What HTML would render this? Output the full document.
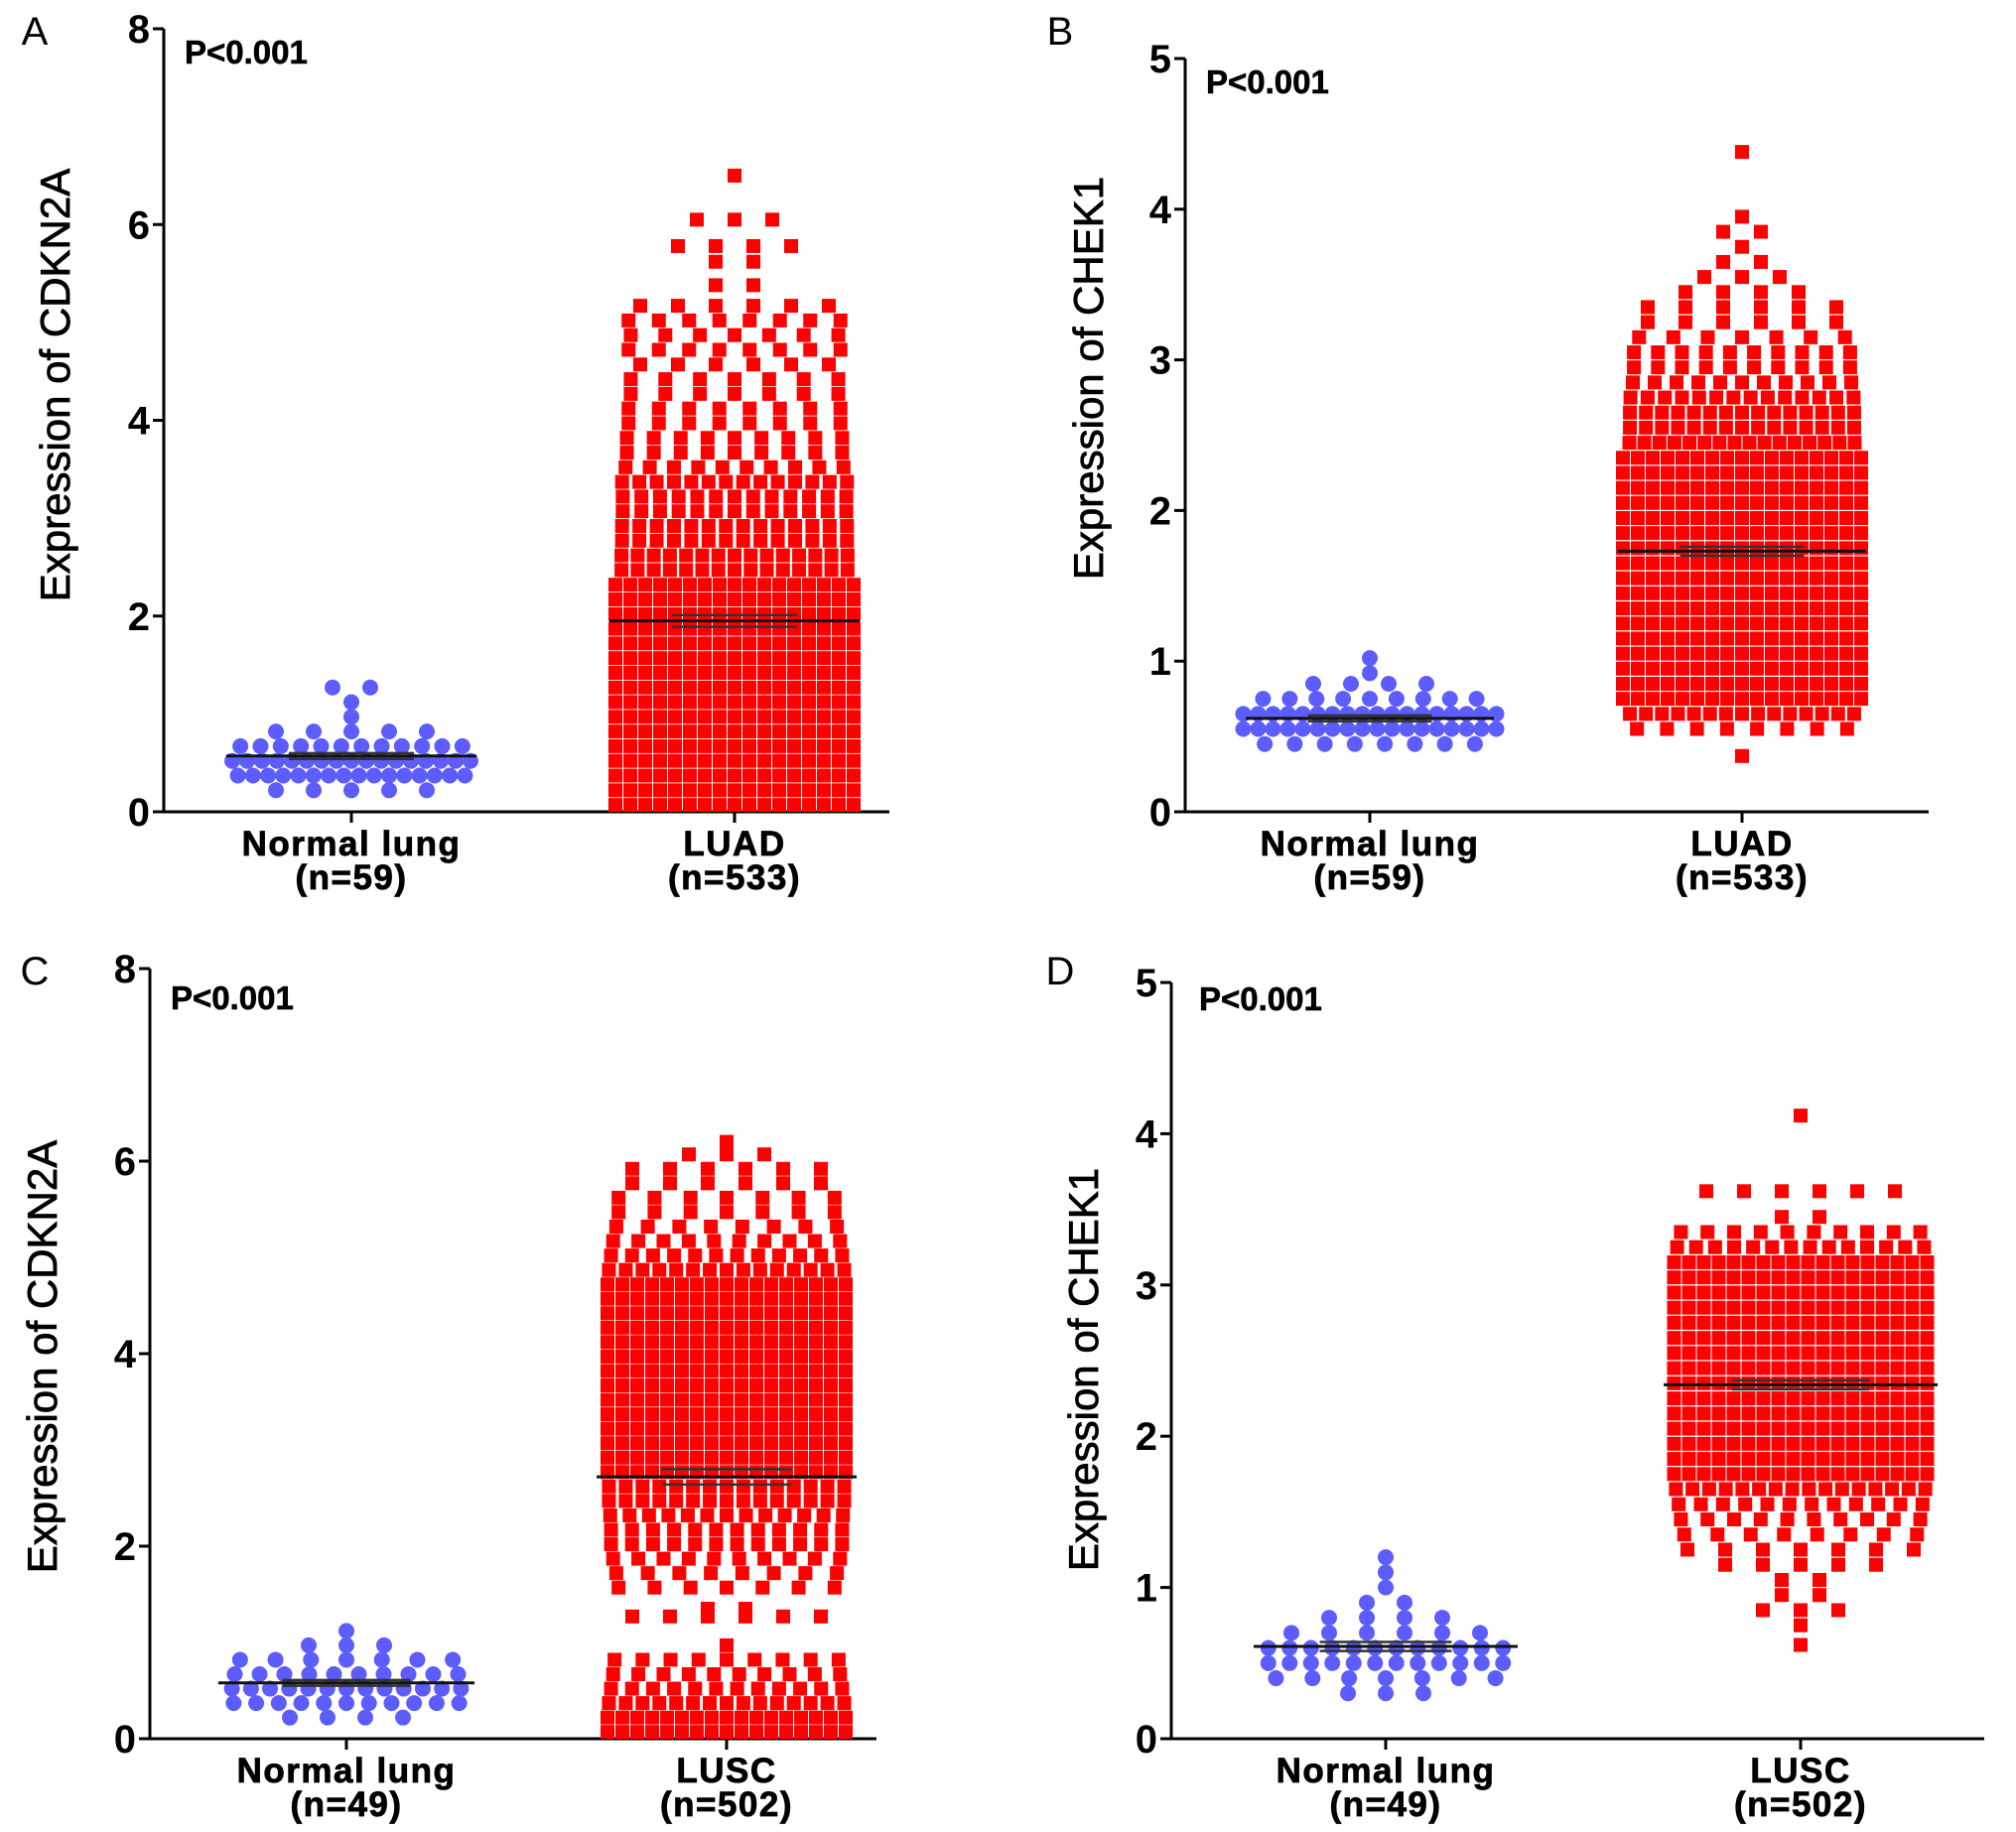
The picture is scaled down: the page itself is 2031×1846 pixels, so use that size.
<!DOCTYPE html>
<html><head><meta charset="utf-8">
<style>
html,body{margin:0;padding:0;background:#fff;}
svg{display:block;}
text{font-family:"Liberation Sans",Arial,sans-serif;}
</style></head>
<body>
<svg id="fig" width="2031" height="1846" viewBox="0 0 2031 1846" xmlns="http://www.w3.org/2000/svg"></svg>
<script>
// ---- Data (row value, number of samples at that value) ----
// Panel A: CDKN2A, LUAD cohort
const aNormVals = [0.22,0.37,0.52,0.67,0.82,0.97,1.12,1.27];
const aNormCnts = [5,16,17,12,5,1,1,2];
const aTumVals = [0.07,0.22,0.37,0.52,0.67,0.82,0.97,1.12,1.27,1.42,1.57,1.72,1.87,2.02,2.17,2.32,2.47,2.62,2.77,2.92,3.07,3.22,3.37,3.52,3.67,3.82,3.97,4.12,4.27,4.42,4.57,4.72,4.87,5.02,5.17,5.38,5.62,5.78,6.05,6.5];
const aTumCnts = [17,17,17,17,17,17,17,17,17,17,17,17,17,17,17,17,15,15,14,14,13,13,14,10,9,9,8,8,7,7,6,8,7,8,6,2,2,4,3,1];
// Panel B: CHEK1, LUAD cohort
const bNormVals = [0.45,0.55,0.65,0.75,0.85,0.92,1.02];
const bNormCnts = [8,18,18,9,4,1,1];
const bTumVals = [0.37,0.55,0.65,0.75,0.85,0.95,1.05,1.15,1.25,1.35,1.45,1.55,1.65,1.75,1.85,1.95,2.05,2.15,2.25,2.35,2.45,2.55,2.65,2.75,2.85,2.95,3.05,3.15,3.25,3.35,3.45,3.55,3.65,3.75,3.85,3.95,4.38];
const bTumCnts = [1,8,15,17,17,17,17,17,17,17,17,17,17,17,17,17,17,17,17,17,16,15,15,14,11,10,10,7,6,6,4,3,2,1,2,1,1];
// Panel C: CDKN2A, LUSC cohort
const cNormVals = [0.22,0.37,0.52,0.67,0.82,0.97,1.12];
const cNormCnts = [4,11,13,10,7,3,1];
const cTumVals = [0.07,0.22,0.37,0.52,0.67,0.82,0.97,1.27,1.35,1.57,1.72,1.87,2.02,2.17,2.32,2.47,2.62,2.77,2.92,3.07,3.22,3.37,3.52,3.67,3.82,3.97,4.12,4.27,4.42,4.57,4.72,4.87,5.02,5.17,5.32,5.47,5.62,5.77,5.92,6.07,6.2];
const cTumCnts = [17,17,15,12,10,9,1,6,2,7,8,10,12,12,13,15,15,17,17,17,17,17,17,17,17,17,17,17,17,17,17,15,12,10,8,7,7,6,6,3,1];
// Panel D: CHEK1, LUSC cohort
const dNormVals = [0.3,0.4,0.5,0.6,0.7,0.8,0.9,1.0,1.1,1.2];
const dNormCnts = [3,7,12,12,6,4,2,1,1,1];
const dTumVals = [0.62,0.75,0.85,0.95,1.05,1.15,1.25,1.35,1.45,1.55,1.65,1.75,1.85,1.95,2.05,2.15,2.25,2.35,2.45,2.55,2.65,2.75,2.85,2.95,3.05,3.15,3.25,3.35,3.45,3.62,4.12];
const dTumCnts = [1,1,3,2,2,5,7,8,10,12,16,18,18,18,18,18,18,18,18,18,18,18,18,18,18,18,14,10,2,6,1];
// Group means and SEM
const aMeans = [0.57,1.95]; const aSems = [0.03,0.06];
const bMeans = [0.62,1.73]; const bSems = [0.02,0.03];
const cMeans = [0.58,2.72]; const cSems = [0.03,0.08];
const dMeans = [0.61,2.34]; const dSems = [0.03,0.03];
// Labels
const aTicks = [0,2,4,6,8]; const bTicks = [0,1,2,3,4,5];
const cTicks = [0,2,4,6,8]; const dTicks = [0,1,2,3,4,5];
const luadCats = ["Normal lung","LUAD"]; const luadNs = ["(n=59)","(n=533)"];
const luscCats = ["Normal lung","LUSC"]; const luscNs = ["(n=49)","(n=502)"];

const NS = "http://www.w3.org/2000/svg";
const svg = document.getElementById('fig');
function mk(tag, attrs, parent, txt){
  const e = document.createElementNS(NS, tag);
  for (const k in attrs) e.setAttribute(k, attrs[k]);
  if (txt !== undefined) e.textContent = txt;
  (parent || svg).appendChild(e);
  return e;
}

const panels = [
  {id:'a', letter:'A', gene:'CDKN2A', ymax:8, ticks:aTicks, cats:luadCats, ns:luadNs,
   ax:165, top:29, bot:818, xend:896, cx:[354,740], half:[126,126],
   normVals:aNormVals, normCnts:aNormCnts, tumVals:aTumVals, tumCnts:aTumCnts, means:aMeans, sems:aSems,
   lx:35, ly:45, px:186, py:64, tx:55, ty:388},
  {id:'b', letter:'B', gene:'CHEK1', ymax:5, ticks:bTicks, cats:luadCats, ns:luadNs,
   ax:1194, top:59, bot:818, xend:1943, cx:[1380,1755], half:[125,125],
   normVals:bNormVals, normCnts:bNormCnts, tumVals:bTumVals, tumCnts:bTumCnts, means:bMeans, sems:bSems,
   lx:1068, ly:45, px:1215, py:94, tx:1096, ty:381},
  {id:'c', letter:'C', gene:'CDKN2A', ymax:8, ticks:cTicks, cats:luscCats, ns:luscNs,
   ax:151, top:976, bot:1752, xend:883, cx:[349,732], half:[129,131],
   normVals:cNormVals, normCnts:cNormCnts, tumVals:cTumVals, tumCnts:cTumCnts, means:cMeans, sems:cSems,
   lx:35, ly:992, px:172, py:1017, tx:42, ty:1367},
  {id:'d', letter:'D', gene:'CHEK1', ymax:5, ticks:dTicks, cats:luscCats, ns:luscNs,
   ax:1180, top:990, bot:1752, xend:1999, cx:[1396,1814], half:[133,138],
   normVals:dNormVals, normCnts:dNormCnts, tumVals:dTumVals, tumCnts:dTumCnts, means:dMeans, sems:dSems,
   lx:1068, ly:992, px:1208, py:1018, tx:1091, ty:1380}
];

function spacingFor(n, width){
  return Math.min(38, Math.max(15, width / n));
}

panels.forEach(p => {
  const g = mk('g', {});
  
  
  const y = v => p.bot - (v / p.ymax) * (p.bot - p.top);

  const lt = mk('text', {x:p.lx, y:p.ly, 'font-size':40, 'text-anchor':'middle'}, g, p.letter);
  
  

  const ya = mk('line', {x1:p.ax, y1:p.top, x2:p.ax, y2:p.bot+1.5, stroke:'#000', 'stroke-width':3}, g);
  
  
  const xa = mk('line', {x1:p.ax-1.5, y1:p.bot, x2:p.xend, y2:p.bot, stroke:'#000', 'stroke-width':3}, g);
  
  

  p.ticks.forEach(t => {
    const tl = mk('line', {x1:p.ax-11, y1:y(t), x2:p.ax, y2:y(t), stroke:'#000', 'stroke-width':3}, g);
    
    
    const tt = mk('text', {x:p.ax-14, y:y(t)+14, 'font-size':40, 'font-weight':'bold', 'text-anchor':'end'}, g, String(t));
    
    
  });

  const yt = mk('text', {x:p.tx, y:p.ty, 'font-size':42, 'text-anchor':'middle', stroke:'#000', 'stroke-width':0.8, transform:`rotate(-90 ${p.tx} ${p.ty})`, dy:15}, g, 'Expression of ' + p.gene);
  
  

  const pv = mk('text', {x:p.px, y:p.py, 'font-size':33, 'font-weight':'bold', stroke:'#000', 'stroke-width':0.6}, g, 'P<0.001');
  
  

  p.cats.forEach((c, i) => {
    const tk = mk('line', {x1:p.cx[i], y1:p.bot, x2:p.cx[i], y2:p.bot+11, stroke:'#000', 'stroke-width':3}, g);
    
    
    const c1 = mk('text', {x:p.cx[i], y:p.bot+44, 'font-size':35, 'font-weight':'bold', 'letter-spacing':1.5, stroke:'#000', 'stroke-width':0.8, 'text-anchor':'middle'}, g, c);
    
    
    const c2 = mk('text', {x:p.cx[i], y:p.bot+78, 'font-size':35, 'font-weight':'bold', 'letter-spacing':1.5, stroke:'#000', 'stroke-width':0.8, 'text-anchor':'middle'}, g, p.ns[i]);
    
    
  });

  const ng = mk('g', {fill:'#5c5cff'}, g);
  
  
  p.normVals.forEach((v, r) => {
    const n = p.normCnts[r];
    const sp = spacingFor(n, p.half[0]*2 - 8);
    for (let i = 0; i < n; i++) {
      const x = p.cx[0] + (i - (n-1)/2) * sp;
      const c = mk('circle', {cx:x, cy:y(v), r:8}, ng);
      
      
    }
  });
  const tg = mk('g', {fill:'#ff0000'}, g);
  
  
  p.tumVals.forEach((v, r) => {
    const n = p.tumCnts[r];
    const sp = spacingFor(n, p.half[1]*2 - 8);
    for (let i = 0; i < n; i++) {
      const x = p.cx[1] + (i - (n-1)/2) * sp;
      const s = mk('rect', {x:x-7, y:y(v)-7, width:14, height:14}, tg);
      
      
    }
  });

  p.means.forEach((m, i) => {
    const hi = mk('line', {x1:p.cx[i]-p.half[i]*0.5, y1:y(m+p.sems[i]), x2:p.cx[i]+p.half[i]*0.5, y2:y(m+p.sems[i]), stroke:'#333', 'stroke-width':2.5}, g);
    
    
    const lo = mk('line', {x1:p.cx[i]-p.half[i]*0.5, y1:y(m-p.sems[i]), x2:p.cx[i]+p.half[i]*0.5, y2:y(m-p.sems[i]), stroke:'#333', 'stroke-width':2.5}, g);
    
    
    const ml = mk('line', {x1:p.cx[i]-p.half[i], y1:y(m), x2:p.cx[i]+p.half[i], y2:y(m), stroke:'#111', 'stroke-width':3}, g);
    
    
  });
});
</script>
</body></html>
